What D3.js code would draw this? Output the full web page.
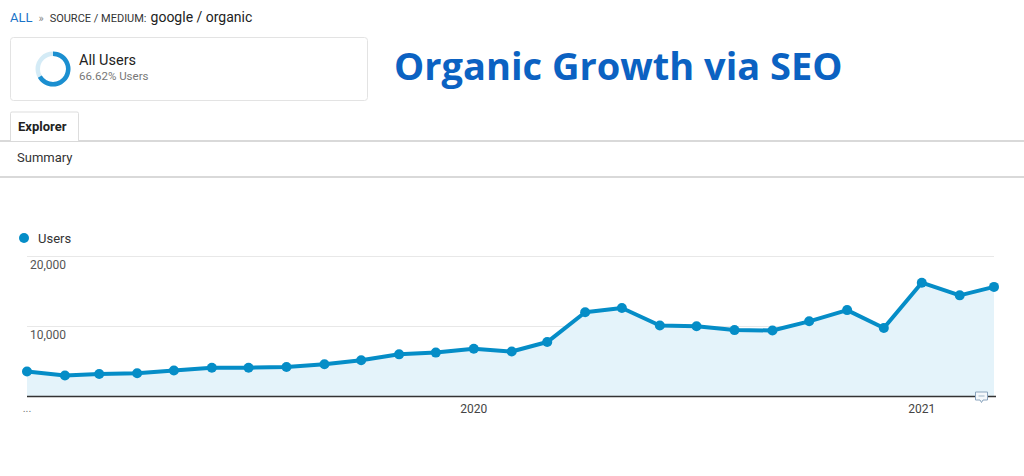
<!DOCTYPE html>
<html>
<head>
<meta charset="utf-8">
<script src="https://cdn.jsdelivr.net/npm/d3@7"></script>
<style>
  body { margin: 0; background: #fff; font-family: Roboto, Arial, sans-serif; }
  svg { display: block; }
</style>
</head>
<body>
<div id="chart"></div>
<script>
// Monthly users, Jan 2019 .. Mar 2021
const months = d3.range(27).map(i => new Date(2019, i, 1));
const users = [3550, 3000, 3200, 3300, 3700, 4100, 4100, 4200, 4600, 5150,
               6000, 6250, 6800, 6400, 7750, 12000, 12600, 10100, 10000, 9450,
               9400, 10700, 12300, 9750, 16200, 14400, 15600];
const yTicks = [10000, 20000];
const xTickDates = [new Date(2020, 0, 1), new Date(2021, 0, 1)];
const xTickLabels = ["2020", "2021"];
const share = 0.6662;

const W = 1024, H = 476;
const svg = d3.select("#chart").append("svg")
  .attr("width", W)
  .attr("height", H);

// Header: breadcrumb
const crumb = svg.append("text").attr("x", 10).attr("y", 22).style("font-size", "12px");
crumb.append("tspan").attr("fill", "#1a73c8").style("font-size", "13px").text("ALL");
crumb.append("tspan").attr("fill", "#888").attr("dx", 6).style("font-size", "11px").text("»");
crumb.append("tspan").attr("fill", "#333").attr("dx", 6).style("font-size", "11px").text("SOURCE / MEDIUM:");
crumb.append("tspan").attr("fill", "#222").attr("dx", 4).style("font-size", "14px").text("google / organic");

// Segment card
svg.append("rect")
  .attr("x", 10.5).attr("y", 37.5).attr("width", 357).attr("height", 63)
  .attr("rx", 3).attr("fill", "#fff").attr("stroke", "#e3e3e3");

const donut = svg.append("g").attr("transform", "translate(53,69)");
const arc = d3.arc().innerRadius(13).outerRadius(17.5);
donut.append("path").attr("d", arc({startAngle: 0, endAngle: 2 * Math.PI})).attr("fill", "#d4ebf6");
donut.append("path").attr("d", arc({startAngle: 0, endAngle: 2 * Math.PI * share})).attr("fill", "#1b8fd0");

svg.append("text").attr("x", 79).attr("y", 65).attr("fill", "#222")
  .style("font-size", "14.5px").text("All Users");
svg.append("text").attr("x", 79).attr("y", 80).attr("fill", "#777")
  .style("font-size", "11.5px").text("66.62% Users");

// Big title
svg.append("text")
  .attr("x", 394).attr("y", 80)
  .attr("fill", "#0b62c2")
  .style("font-family", "'Open Sans', sans-serif")
  .style("font-weight", "bold")
  .style("font-size", "38px")
  .text("Organic Growth via SEO");

// Tabs
svg.append("line").attr("x1", 0).attr("x2", W).attr("y1", 141).attr("y2", 141)
  .attr("stroke", "#ccc").attr("stroke-width", 1.5);
svg.append("path")
  .attr("d", "M10.5,141 V113.5 Q10.5,112 12,112 H77 Q78.5,112 78.5,113.5 V141")
  .attr("fill", "#fff").attr("stroke", "#ddd");
svg.append("text").attr("x", 18).attr("y", 131).attr("fill", "#222")
  .style("font-size", "13px").style("font-weight", "bold").text("Explorer");
svg.append("text").attr("x", 17).attr("y", 162).attr("fill", "#333")
  .style("font-size", "13px").text("Summary");
svg.append("line").attr("x1", 0).attr("x2", W).attr("y1", 177).attr("y2", 177)
  .attr("stroke", "#ccc").attr("stroke-width", 1.5);

// Legend
svg.append("circle").attr("cx", 24).attr("cy", 238).attr("r", 5).attr("fill", "#058dc7");
svg.append("text").attr("x", 38).attr("y", 243).attr("fill", "#333")
  .style("font-size", "13px").text("Users");

// Scales
const x = d3.scaleTime()
  .domain([months[0], months[months.length - 1]])
  .range([27, 994]);
const y = d3.scaleLinear()
  .domain([0, 20000])
  .range([396.5, 256]);

// Gridlines
svg.append("g").selectAll("line")
  .data(yTicks)
  .join("line")
  .attr("x1", 27).attr("x2", 994)
  .attr("y1", d => Math.round(y(d)) + 0.5).attr("y2", d => Math.round(y(d)) + 0.5)
  .attr("stroke", "#e8e8e8");

svg.append("g").selectAll("text")
  .data(yTicks)
  .join("text")
  .attr("x", 30).attr("y", d => y(d) + 13)
  .attr("fill", "#555")
  .style("font-size", "12px")
  .text(d3.format(",")) ;

// Area + line
const area = d3.area()
  .x((d, i) => x(months[i]))
  .y0(y(0))
  .y1(d => y(d));
svg.append("path").datum(users).attr("d", area).attr("fill", "#e4f3fa");

const line = d3.line()
  .x((d, i) => x(months[i]))
  .y(d => y(d));
svg.append("path").datum(users).attr("d", line)
  .attr("fill", "none").attr("stroke", "#058dc7").attr("stroke-width", 4)
  .attr("stroke-linejoin", "round");

svg.append("g").selectAll("circle")
  .data(users)
  .join("circle")
  .attr("cx", (d, i) => x(months[i]))
  .attr("cy", d => y(d))
  .attr("r", 5)
  .attr("fill", "#058dc7");

// Baseline axis
svg.append("line").attr("x1", 27).attr("x2", 996).attr("y1", y(0)).attr("y2", y(0))
  .attr("stroke", "#333").attr("stroke-width", 1.5);

// X labels
svg.append("text").attr("x", 27).attr("y", 412).attr("text-anchor", "middle")
  .attr("fill", "#777").style("font-size", "11px").text("...");
svg.append("g").selectAll("text")
  .data(xTickDates)
  .join("text")
  .attr("x", d => x(d))
  .attr("y", 413)
  .attr("text-anchor", "middle")
  .attr("fill", "#444")
  .style("font-size", "12px")
  .text((d, i) => xTickLabels[i]);

// Annotation bubble icon
const icon = svg.append("g").attr("transform", `translate(${x(months[26]) - 19},${y(0) - 5})`);
icon.append("path")
  .attr("d", "M0.5,0.5 H12.5 V8.5 H8 L6.5,11 L5,8.5 H0.5 Z")
  .attr("fill", "#f4f8fb").attr("stroke", "#8aa4bd");
icon.append("line").attr("x1", 3.5).attr("x2", 9.5).attr("y1", 4.5).attr("y2", 4.5)
  .attr("stroke", "#8aa4bd").attr("stroke-width", 0.8);
</script>
</body>
</html>
